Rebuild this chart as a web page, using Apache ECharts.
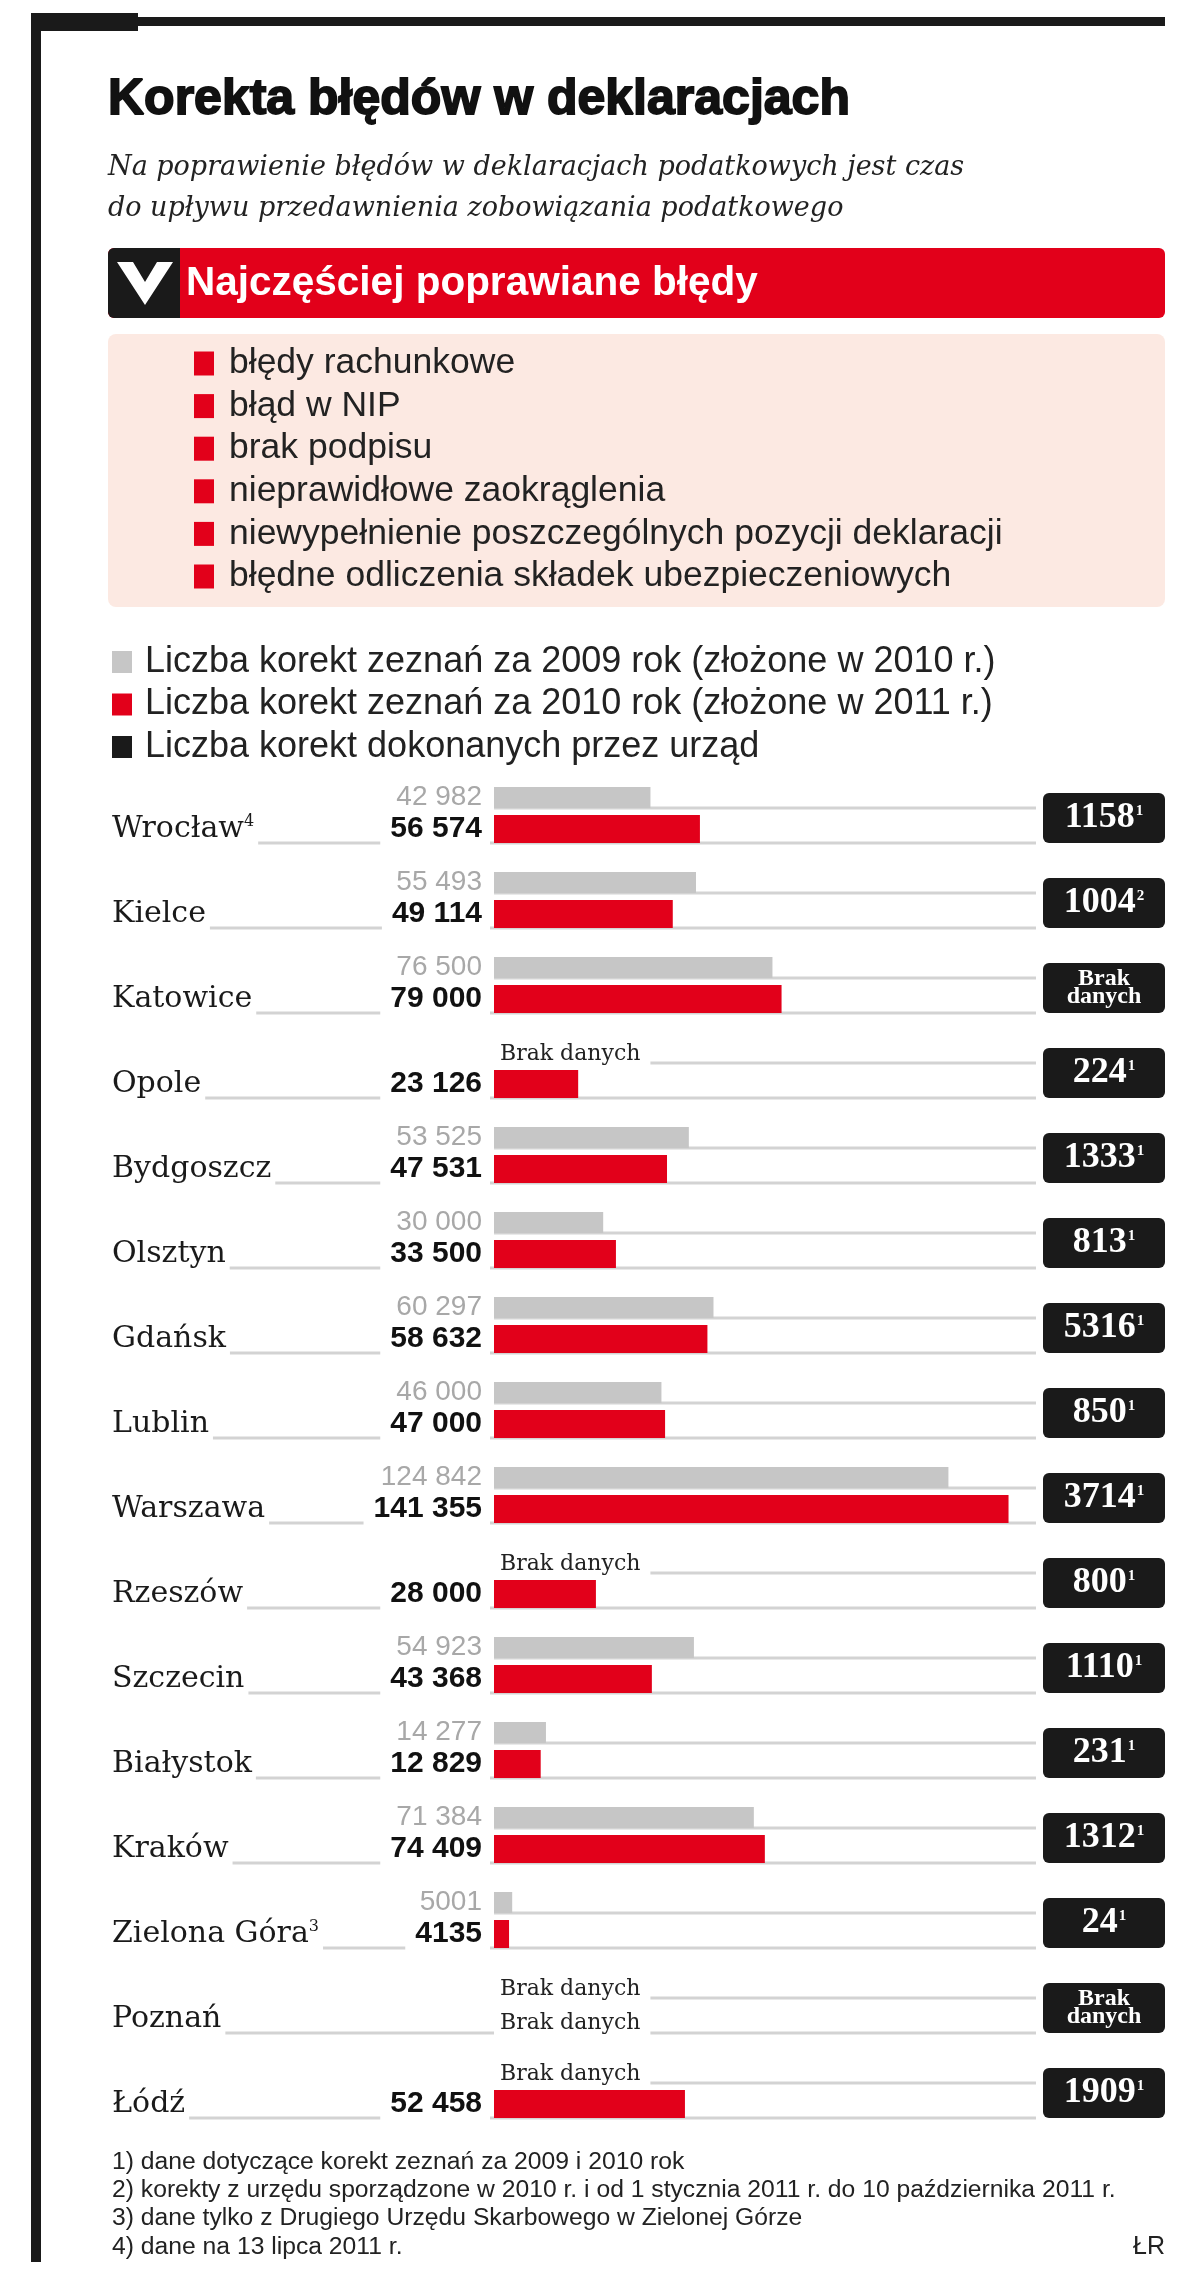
<!DOCTYPE html>
<html><head><meta charset="utf-8">
<script src="https://cdn.jsdelivr.net/npm/echarts@6/dist/echarts.min.js"></script>
<style>html,body{margin:0;padding:0;background:#fff}#c{width:1200px;height:2280px}</style>
</head><body><div id="c"></div>
<script>
const cities = ['Wrocław','Kielce','Katowice','Opole','Bydgoszcz','Olsztyn','Gdańsk','Lublin','Warszawa','Rzeszów','Szczecin','Białystok','Kraków','Zielona Góra','Poznań','Łódź'];
const cityNotes = [4,null,null,null,null,null,null,null,null,null,null,null,null,3,null,null];
const korekty2009 = [42982,55493,76500,null,53525,30000,60297,46000,124842,null,54923,14277,71384,5001,null,null];
const korekty2010 = [56574,49114,79000,23126,47531,33500,58632,47000,141355,28000,43368,12829,74409,4135,null,52458];
const korektyUrzad = [1158,1004,null,224,1333,813,5316,850,3714,800,1110,231,1312,24,null,1909];
const urzadNotes = [1,2,null,1,1,1,1,1,1,1,1,1,1,1,null,1];
const seriesNames = ['Liczba korekt zeznań za 2009 rok (złożone w 2010 r.)','Liczba korekt zeznań za 2010 rok (złożone w 2011 r.)','Liczba korekt dokonanych przez urząd'];
const bledy = ['błędy rachunkowe','błąd w NIP','brak podpisu','nieprawidłowe zaokrąglenia','niewypełnienie poszczególnych pozycji deklaracji','błędne odliczenia składek ubezpieczeniowych'];
const footnotes = ['1) dane dotyczące korekt zeznań za 2009 i 2010 rok','2) korekty z urzędu sporządzone w 2010 r. i od 1 stycznia 2011 r. do 10 października 2011 r.','3) dane tylko z Drugiego Urzędu Skarbowego w Zielonej Górze','4) dane na 13 lipca 2011 r.'];
const BRAK = 'Brak danych';

const SANS = "'Liberation Sans', Arial, sans-serif";
const SERIF = "'DejaVu Serif', serif";
const TSERIF = "'Liberation Serif', serif";
const RED = '#e2001a', GREY = '#c6c6c6', BLACK = '#1a1a1a', LINE = '#d3d3d3', PINK = '#fce9e2';

const GRID_LEFT = 494, NAME_MARGIN = 382;
const GREY_W = 21, RED_W = 28, GAP = 7;
const RIGHT = 1165;

function fmt(v) {
  if (v == null) return '';
  return v >= 10000 ? String(v).replace(/\B(?=(\d{3})+(?!\d))/g, ' ') : String(v);
}

function renderItem(params, api) {
  const i = params.dataIndex;
  const s = api.coord([0, i]);
  const e = api.coord([150000, i]);
  const yc = s[1], x0 = s[0], x1 = e[0];
  const top = yc - (GREY_W + GAP + RED_W) / 2;
  const greyLineY = top + GREY_W;
  const redLineY = top + GREY_W + GAP + RED_W;
  const ch = [];
  ch.push({type:'line', shape:{x1: x0 - NAME_MARGIN, y1: redLineY, x2: x1 - 4, y2: redLineY}, style:{stroke: LINE, lineWidth: 3}});
  ch.push({type:'line', shape:{x1: x0, y1: greyLineY, x2: x1 - 4, y2: greyLineY}, style:{stroke: LINE, lineWidth: 3}});
  if (korekty2009[i] == null) {
    ch.push({type:'text', x: x0, y: yc - 16, style:{text: BRAK, fontFamily: SERIF, fontSize: 22, fill:'#222', align:'left', verticalAlign:'middle', backgroundColor:'#fff', padding:[3,10,3,6]}});
  }
  if (korekty2010[i] == null) {
    ch.push({type:'text', x: x0, y: yc + 18, style:{text: BRAK, fontFamily: SERIF, fontSize: 22, fill:'#222', align:'left', verticalAlign:'middle', backgroundColor:'#fff', padding:[3,10,3,6]}});
  }
  const bx = x1 + 3, bw = RIGHT - bx;
  ch.push({type:'rect', shape:{x: bx, y: yc - 22, width: bw, height: 50, r: 6}, style:{fill: BLACK}});
  const v = korektyUrzad[i];
  if (v != null) {
    ch.push({type:'text', x: bx + bw / 2, y: yc + 3, style:{
      text: '{v|' + v + '}{s|' + (urzadNotes[i] || '') + '}', align:'center', verticalAlign:'middle',
      rich: { v: {fontFamily: TSERIF, fontWeight:'bold', fontSize: 36, fill:'#fff', lineHeight: 36},
              s: {fontFamily: TSERIF, fontWeight:'bold', fontSize: 15, fill:'#fff', verticalAlign:'top', lineHeight: 15, padding:[4,0,0,1]} }
    }});
  } else {
    ch.push({type:'text', x: bx + bw / 2, y: yc + 3, style:{text:'Brak\ndanych', align:'center', verticalAlign:'middle', fontFamily: TSERIF, fontWeight:'bold', fontSize: 24, lineHeight: 18, fill:'#fff'}});
  }
  return {type:'group', children: ch};
}

const graphic = [
  {type:'rect', shape:{x:31, y:17, width:RIGHT - 31, height:9}, style:{fill: BLACK}},
  {type:'rect', shape:{x:31, y:13, width:107, height:18}, style:{fill: BLACK}},
  {type:'rect', shape:{x:31, y:13, width:10, height:2249}, style:{fill: BLACK}},
  {type:'rect', shape:{x:108, y:248, width:RIGHT - 108, height:70, r:6}, style:{fill: RED}},
  {type:'rect', shape:{x:108, y:248, width:72, height:70, r:[6,0,0,6]}, style:{fill: BLACK}},
  {type:'polygon', shape:{points:[[117,262],[133,262],[145,282],[157,262],[173,262],[145,305]]}, style:{fill:'#fff'}},
  {type:'text', x:186, y:284, style:{text:'Najczęściej poprawiane błędy', fill:'#fff', fontFamily: SANS, fontWeight:'bold', fontSize: 40.5, verticalAlign:'middle'}},
  {type:'rect', shape:{x:108, y:334, width:RIGHT - 108, height:273, r:8}, style:{fill: PINK}}
];
bledy.forEach((t, k) => {
  const y = 363.5 + 42.6 * k;
  graphic.push({type:'rect', shape:{x:194, y: y - 12, width: 20, height: 24}, style:{fill: RED}});
  graphic.push({type:'text', x:229, y: y, style:{text: t, fill:'#222', fontFamily: SANS, fontSize: 35.5, verticalAlign:'middle'}});
});
footnotes.forEach((t, k) => {
  graphic.push({type:'text', x:112, y: 2162 + 28.3 * k, style:{text: t, fill:'#222', fontFamily: SANS, fontSize: 24.7, verticalAlign:'middle'}});
});
graphic.push({type:'text', x:RIGHT, y: 2247, style:{text:'ŁR', fill:'#222', fontFamily: SANS, fontSize: 25, align:'right', verticalAlign:'middle'}});

const chart = echarts.init(document.getElementById('c'));
chart.setOption({
  backgroundColor: '#fff',
  animation: false,
  title: {
    text: 'Korekta błędów w deklaracjach',
    subtext: 'Na poprawienie błędów w deklaracjach podatkowych jest czas\ndo upływu przedawnienia zobowiązania podatkowego',
    left: 108, top: 75, padding: 0, itemGap: 21,
    textStyle: {fontFamily: SANS, fontSize: 50, fontWeight: 'bold', color: '#111', textBorderColor: '#111', textBorderWidth: 1.8, lineHeight: 50},
    subtextStyle: {fontFamily: SERIF, fontStyle: 'italic', fontSize: 27, color: '#222', lineHeight: 41}
  },
  legend: {
    orient: 'vertical', left: 112, top: 644, padding: 0, itemWidth: 20, itemHeight: 22, itemGap: 6.5, icon: 'rect',
    data: seriesNames, selectedMode: false,
    textStyle: {fontFamily: SANS, fontSize: 36, color: '#222', lineHeight: 36, padding: [0,0,0,8]}
  },
  grid: {left: GRID_LEFT, top: 772.5, width: 546, height: 1360, outerBoundsMode: 'none', containLabel: false},
  xAxis: {type: 'value', min: 0, max: 150000, show: false},
  yAxis: {
    type: 'category', inverse: true, data: cities, z: 5,
    axisLine: {show: false}, axisTick: {show: false}, splitLine: {show: false},
    axisLabel: {
      interval: 0, align: 'left', margin: NAME_MARGIN,
      formatter: (v, i) => cityNotes[i] ? '{n|' + v + '}{s|' + cityNotes[i] + '}' : '{n|' + v + '}',
      backgroundColor: '#fff', padding: [32, 4, 4, 0],
      rich: {
        n: {fontFamily: SERIF, fontSize: 30, color: '#1a1a1a', lineHeight: 30},
        s: {fontFamily: SERIF, fontSize: 16, color: '#1a1a1a', verticalAlign: 'top', lineHeight: 16}
      }
    }
  },
  series: [
    {name: seriesNames[0], type: 'bar', data: korekty2009, barWidth: GREY_W, barGap: (GAP / GREY_W * 100) + '%', z: 3,
     itemStyle: {color: GREY},
     label: {show: true, position: 'left', distance: 12, formatter: p => fmt(p.value), fontFamily: SANS, fontSize: 28, color: '#a8a8a8'}},
    {name: seriesNames[1], type: 'bar', data: korekty2010, barWidth: RED_W, barGap: (GAP / GREY_W * 100) + '%', z: 3,
     itemStyle: {color: RED},
     label: {show: true, position: 'left', distance: 4, formatter: p => fmt(p.value), fontFamily: SANS, fontWeight: 'bold', fontSize: 30, color: '#111', backgroundColor: '#fff', padding: [2, 8, 2, 10]}},
    {name: seriesNames[2], type: 'custom', z: 1, clip: false, itemStyle: {color: BLACK},
     data: cities.map((c, i) => [0, i]), encode: {x: 0, y: 1}, renderItem: renderItem}
  ],
  graphic: graphic
});
</script>
</body></html>
